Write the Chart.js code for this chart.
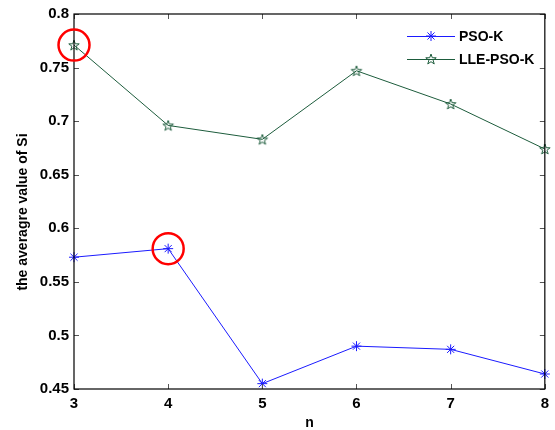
<!DOCTYPE html>
<html>
<head>
<meta charset="utf-8">
<script src="https://cdn.jsdelivr.net/npm/chart.js@4"></script>
<style>
  body { margin: 0; background: #fff; }
  #wrap { width: 555px; height: 430px; }
</style>
</head>
<body>
<div id="wrap"><canvas id="mycanvas" width="555" height="430"></canvas></div>
<script>
var nValues = ['3', '4', '5', '6', '7', '8'];
var psoK = [0.573, 0.581, 0.455, 0.490, 0.487, 0.464];
var llePsoK = [0.771, 0.696, 0.683, 0.747, 0.716, 0.674];
var yTicks = [0.45, 0.5, 0.55, 0.6, 0.65, 0.7, 0.75, 0.8];
var yTickLabels = ['0.45', '0.5', '0.55', '0.6', '0.65', '0.7', '0.75', '0.8'];
var seriesNames = ['PSO-K', 'LLE-PSO-K'];
var xTitle = 'n';
var yTitle = 'the averagre value of Si';
// points ringed in red: [dataset index, point index]
var circled = [[1, 0], [0, 1]];

var blue = '#1a1aff';
var green = '#1d5c3c';
var fontFamily = '"Liberation Sans", Arial, sans-serif';

// five-pointed star outline, used as the LLE-PSO-K marker
function pentagram(color, r) {
  var size = Math.ceil(2 * r + 3);
  var c = document.createElement('canvas');
  c.width = size;
  c.height = size;
  var g = c.getContext('2d');
  var cx = size / 2, cy = size / 2 + 0.5;
  g.beginPath();
  for (var i = 0; i < 10; i++) {
    var rr = i % 2 === 0 ? r : r * 0.4;
    var a = -Math.PI / 2 + i * Math.PI / 5;
    var px = cx + rr * Math.cos(a), py = cy + rr * Math.sin(a);
    if (i === 0) g.moveTo(px, py); else g.lineTo(px, py);
  }
  g.closePath();
  g.strokeStyle = color;
  g.lineWidth = 1;
  g.stroke();
  return c;
}
var starImg = pentagram(green, 5.5);

// box, inward ticks, axis titles, red rings and legend
var decorations = {
  id: 'decorations',
  afterDraw: function(chart) {
    var ctx = chart.ctx;
    var a = chart.chartArea;
    var xs = chart.scales.x, ys = chart.scales.y;
    ctx.save();

    // inward tick marks on all four sides
    ctx.strokeStyle = '#555';
    ctx.lineWidth = 1;
    ctx.beginPath();
    for (var i = 0; i < nValues.length; i++) {
      var x = Math.round(xs.getPixelForValue(i)) + 0.5;
      ctx.moveTo(x, a.bottom); ctx.lineTo(x, a.bottom - 5);
      ctx.moveTo(x, a.top); ctx.lineTo(x, a.top + 5);
    }
    for (var j = 0; j < yTicks.length; j++) {
      var y = Math.round(ys.getPixelForValue(yTicks[j])) + 0.5;
      ctx.moveTo(a.left, y); ctx.lineTo(a.left + 5, y);
      ctx.moveTo(a.right, y); ctx.lineTo(a.right - 5, y);
    }
    ctx.stroke();

    // frame
    ctx.strokeStyle = '#000';
    ctx.lineWidth = 1.2;
    ctx.strokeRect(a.left, a.top, a.right - a.left, a.bottom - a.top);

    // axis titles
    ctx.fillStyle = '#000';
    ctx.textAlign = 'center';
    ctx.textBaseline = 'middle';
    ctx.font = 'bold 14px ' + fontFamily;
    ctx.fillText(xTitle, (a.left + a.right) / 2, 423);
    ctx.save();
    ctx.translate(23, 212);
    ctx.rotate(-Math.PI / 2);
    ctx.font = 'bold 14px ' + fontFamily;
    ctx.fillText(yTitle, 0, 0);
    ctx.restore();

    // red rings
    ctx.strokeStyle = '#ff0000';
    ctx.lineWidth = 2.5;
    circled.forEach(function(p) {
      var pt = chart.getDatasetMeta(p[0]).data[p[1]];
      ctx.beginPath();
      ctx.arc(pt.x, pt.y, 15.5, 0, Math.PI * 2);
      ctx.stroke();
    });

    // legend
    var lx0 = 407, lx1 = 455, ly = [36, 59];
    ctx.font = 'bold 14px ' + fontFamily;
    ctx.textBaseline = 'middle';
    ctx.textAlign = 'left';
    chart.data.datasets.forEach(function(ds, k) {
      ctx.strokeStyle = ds.borderColor;
      ctx.lineWidth = 1;
      ctx.beginPath();
      ctx.moveTo(lx0, ly[k] + 0.5);
      ctx.lineTo(lx1, ly[k] + 0.5);
      ctx.stroke();
      var mx = (lx0 + lx1) / 2;
      if (k === 0) {
        ctx.beginPath();
        for (var t = 0; t < 4; t++) {
          var ang = t * Math.PI / 4;
          ctx.moveTo(mx - 5 * Math.cos(ang), ly[k] - 5 * Math.sin(ang));
          ctx.lineTo(mx + 5 * Math.cos(ang), ly[k] + 5 * Math.sin(ang));
        }
        ctx.stroke();
      } else {
        ctx.drawImage(starImg, mx - starImg.width / 2, ly[k] - starImg.height / 2);
      }
      ctx.fillStyle = '#000';
      ctx.fillText(ds.label, 459, ly[k] + 1);
    });

    ctx.restore();
  }
};

var chartdata = {
  labels: nValues,
  datasets: [
    {
      label: seriesNames[0],
      data: psoK,
      borderColor: blue,
      backgroundColor: blue,
      borderWidth: 1,
      pointStyle: 'star',
      pointRadius: 5,
      pointBorderWidth: 1,
      pointBorderColor: blue,
      tension: 0
    },
    {
      label: seriesNames[1],
      data: llePsoK,
      borderColor: green,
      backgroundColor: green,
      borderWidth: 1,
      pointStyle: starImg,
      pointRadius: 5,
      tension: 0
    }
  ]
};

Chart.defaults.font.family = fontFamily;
Chart.defaults.color = '#000';

var LineGraph = new Chart(document.getElementById('mycanvas'), {
  type: 'line',
  data: chartdata,
  plugins: [decorations],
  options: {
    responsive: false,
    animation: false,
    layout: { padding: { top: 12, right: 2, left: 0, bottom: 0 } },
    plugins: { legend: { display: false }, tooltip: { enabled: false } },
    scales: {
      x: {
        type: 'category',
        offset: false,
        grid: { display: false, drawTicks: false },
        border: { display: false },
        ticks: { font: { size: 15, weight: 'bold' }, padding: 6, maxRotation: 0 },
        afterFit: function(s) { s.height = 41; }
      },
      y: {
        min: 0.45,
        max: 0.8,
        grid: { display: false, drawTicks: false },
        border: { display: false },
        afterBuildTicks: function(s) {
          s.ticks = yTicks.map(function(v) { return { value: v }; });
        },
        ticks: {
          font: { size: 15, weight: 'bold' },
          padding: 5,
          callback: function(v) { return yTickLabels[yTicks.indexOf(v)]; }
        },
        afterFit: function(s) { s.width = 74; }
      }
    }
  }
});
</script>
</body>
</html>
